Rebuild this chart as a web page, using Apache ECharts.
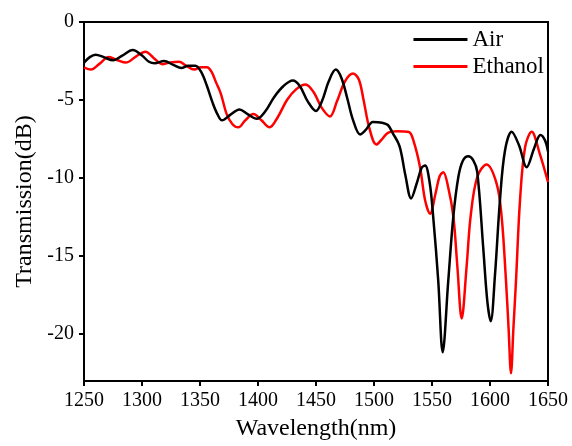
<!DOCTYPE html>
<html>
<head>
<meta charset="utf-8">
<script src="https://cdn.jsdelivr.net/npm/echarts@6/dist/echarts.min.js"></script>
<style>html,body{margin:0;padding:0;background:#fff;}#c{width:572px;height:446px;}</style>
</head>
<body>
<div id="c"></div>
<script>
const xTicks = [1250, 1300, 1350, 1400, 1450, 1500, 1550, 1600, 1650];
const yTicks = [0, -5, -10, -15, -20];
const seriesNames = ['Air', 'Ethanol'];

const airX = [1250,1255,1260,1267,1275,1283,1292,1300,1306,1311,1319,1327,1334,1340,1346,1351,1356,1361,1365,1369,1376,1384,1391,1399,1406,1414,1422,1430,1436,1443,1450,1455,1461,1467,1472,1477,1482,1488,1493,1499,1507,1512,1516,1522,1527,1532,1537,1541,1544,1548,1551,1555.4,1559.2,1564,1568.4,1572.7,1576.5,1581.3,1585.5,1589,1594.2,1597.7,1600.6,1604.3,1608.6,1612.9,1618.7,1625,1631.6,1638,1643.5,1647.5,1650];
const airY = [-2.6,-2.25,-2.1,-2.25,-2.45,-2.15,-1.8,-2.15,-2.55,-2.65,-2.5,-2.75,-2.95,-2.8,-2.8,-3.2,-4.1,-5.2,-5.9,-6.3,-5.95,-5.6,-5.9,-6.2,-5.75,-4.8,-4.1,-3.75,-4.1,-5.1,-5.7,-5.1,-3.8,-3.05,-3.6,-4.9,-6.3,-7.2,-6.9,-6.4,-6.45,-6.6,-7.1,-7.95,-9.8,-11.3,-10.3,-9.35,-9.2,-10.3,-12.45,-16.6,-21.16,-16.6,-12.45,-9.93,-8.9,-8.6,-8.85,-9.6,-14.5,-17.9,-19.17,-16.2,-11.4,-8.25,-7.03,-7.9,-9.3,-8.1,-7.24,-7.6,-8.3];

const ethX = [1250,1256,1263,1271.5,1279,1286,1295,1303,1310,1317.5,1324,1332,1338,1345,1351,1356,1360,1364,1368,1373,1378,1383,1389,1396,1403,1410,1417,1425,1433,1441,1448,1455,1462,1468,1475,1482,1487,1491,1496,1502,1507,1512,1520,1530,1534,1539.7,1544,1548.3,1553,1556.5,1559.7,1564,1568.4,1571.8,1575.6,1579.9,1583.3,1589,1597,1605.7,1610,1613.8,1616,1618.1,1620.2,1622.4,1625.9,1630.2,1635.9,1643,1650];
const ethY = [-2.9,-3.05,-2.7,-2.25,-2.45,-2.6,-2.2,-1.9,-2.3,-2.7,-2.6,-2.55,-2.8,-3.05,-2.9,-2.9,-3.2,-3.9,-4.6,-5.9,-6.55,-6.75,-6.3,-5.9,-6.3,-6.75,-6.1,-5.0,-4.3,-4.0,-4.5,-5.5,-6.05,-5.1,-3.8,-3.3,-3.7,-5.0,-6.8,-7.85,-7.5,-7.1,-7.0,-7.05,-7.6,-9.3,-11.4,-12.28,-11.0,-9.9,-9.62,-10.6,-12.45,-15.6,-19.0,-15.6,-12.45,-9.93,-9.13,-10.35,-12.45,-16.6,-19.6,-22.5,-19.6,-16.6,-11.4,-8.04,-7.03,-8.46,-10.25];

const FONT = '"Liberation Serif", "Times New Roman", serif';
const pairs = (xs, ys) => xs.map((x, i) => [x, ys[i]]);

const chart = echarts.init(document.getElementById('c'), null, {renderer: 'canvas'});
chart.setOption({
  animation: false,
  backgroundColor: '#fff',
  grid: {left: 84, top: 22, right: 24, bottom: 59, show: true, borderColor: '#000', borderWidth: 2, containLabel: false},
  legend: {
    orient: 'vertical', right: 28, top: 27, padding: 0, itemGap: 2,
    itemWidth: 54, itemHeight: 3, icon: 'rect',
    data: seriesNames,
    textStyle: {fontFamily: FONT, fontSize: 23, color: '#000', lineHeight: 25, padding: [0, 0, 0, 0]}
  },
  xAxis: {
    type: 'value', min: 1250, max: 1650, interval: 50,
    name: 'Wavelength(nm)', nameLocation: 'middle', nameGap: 36,
    nameTextStyle: {fontFamily: FONT, fontSize: 24, color: '#000'},
    axisLine: {show: true, onZero: false, lineStyle: {color: '#000', width: 2}},
    axisTick: {show: true, inside: false, length: 5, lineStyle: {color: '#000', width: 2}},
    axisLabel: {fontFamily: FONT, fontSize: 20, color: '#000', margin: 10, formatter: v => xTicks.includes(v) ? String(v) : ''},
    splitLine: {show: false}
  },
  yAxis: {
    type: 'value', min: -23, max: 0,
    name: 'Transmission(dB)', nameLocation: 'middle', nameGap: 46, nameRotate: 90,
    nameTextStyle: {fontFamily: FONT, fontSize: 24, color: '#000'},
    axisLine: {show: true, onZero: false, lineStyle: {color: '#000', width: 2}},
    axisTick: {show: true, inside: false, length: 5, customValues: yTicks, lineStyle: {color: '#000', width: 2}},
    axisLabel: {fontFamily: FONT, fontSize: 20, color: '#000', margin: 10, customValues: yTicks},
    splitLine: {show: false}
  },
  series: [
    {name: seriesNames[0], type: 'line', data: pairs(airX, airY), smooth: 0.35, symbol: 'none', color: '#000', lineStyle: {color: '#000', width: 2.5}, z: 3},
    {name: seriesNames[1], type: 'line', data: pairs(ethX, ethY), smooth: 0.35, symbol: 'none', color: '#ff0000', lineStyle: {color: '#ff0000', width: 2.5}, z: 2}
  ]
});
</script>
</body>
</html>
